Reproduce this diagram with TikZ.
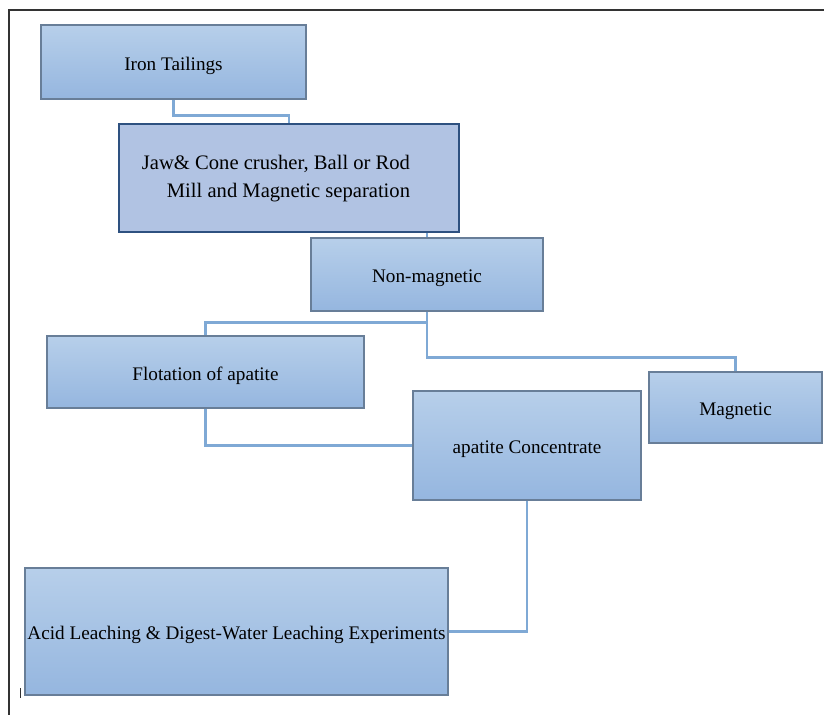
\documentclass[tikz,border=0pt]{standalone}
\usepackage{fontspec}
\setmainfont{Liberation Serif}
\usepackage{tikz}
\usetikzlibrary{calc,positioning}
\usepackage{xcolor}
\definecolor{boxtop}{HTML}{B7CFEA}
\definecolor{boxbot}{HTML}{95B6DF}
\definecolor{boxrim}{HTML}{687E98}
\definecolor{crushfill}{HTML}{B1C3E3}
\definecolor{crushrim}{HTML}{2E5180}
\definecolor{wire}{HTML}{7FA9D5}
\definecolor{frameink}{HTML}{333333}
\tikzset{stagebox/.style={draw=boxrim,top color=boxtop,bottom color=boxbot,line width=1.2pt,inner sep=0pt,text height=20.5pt,text depth=4pt,font=\fontsize{19.2}{23}\selectfont,align=center},crushbox/.style={draw=crushrim,fill=crushfill,line width=2pt,inner sep=0pt},crushtext/.style={font=\fontsize{20.6}{28}\selectfont,align=right,inner sep=0pt},link/.style={draw=wire,line width=2.2pt},frameline/.style={draw=frameink,line width=1.4pt}}

\begin{document}
\begin{tikzpicture}[x=1pt,y=1pt]
\useasboundingbox (0,0) rectangle (824,715);
\draw[frameline] (824,705) -- (9,705) -- (9,0);
\draw[frameink,line width=.8pt] (20,27) -- (20,17);
\node[stagebox,minimum width=265pt,minimum height=74pt] (tail) at (173.5,653) {Iron Tailings};
\node[crushbox,minimum width=340pt,minimum height=108pt,label={[crushtext,xshift=-13pt,yshift=-1pt]center:Jaw\& Cone crusher, Ball or Rod\\Mill and Magnetic separation}] (jaw) at (289,537) {};
\node[stagebox,minimum width=232pt,minimum height=73pt] (nonmag) at (427,440.5) {Non-magnetic};
\node[stagebox,minimum width=317pt,minimum height=72pt] (flot) at (205.5,343) {Flotation of apatite};
\node[stagebox,minimum width=173pt,minimum height=71pt] (magn) at (735.5,307.5) {Magnetic};
\node[stagebox,minimum width=228pt,minimum height=109pt] (conc) at (527,269.5) {apatite Concentrate};
\node[stagebox,minimum width=423pt,minimum height=127pt] (acid) at (236.5,83.5) {Acid Leaching \& Digest-Water Leaching Experiments};
\draw[link] (tail.south) -- ++(0,-16) -| (jaw.north);
\draw[link] (jaw.south -| nonmag.north) -- (nonmag.north);
\draw[link] (nonmag.south) -- ++(0,-11) -| (flot.north);
\draw[link] (nonmag.south) -- ++(0,-46) -| (magn.north);
\draw[link] (flot.south) |- (conc.west);
\draw[link] (conc.south) |- (acid.east);
\end{tikzpicture}
\end{document}
